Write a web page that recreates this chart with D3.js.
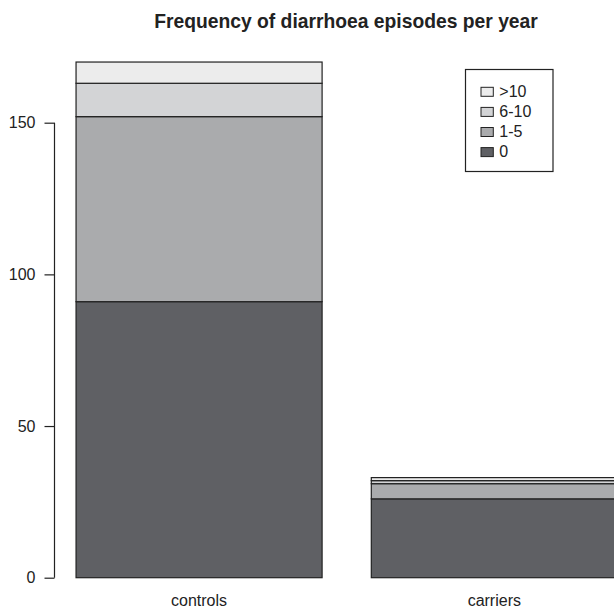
<!DOCTYPE html>
<html>
<head>
<meta charset="utf-8">
<script src="https://cdn.jsdelivr.net/npm/d3@7"></script>
<style>
  body { margin: 0; background: #fff; }
  svg { display: block; font-family: "Liberation Sans", Arial, Helvetica, sans-serif; }
</style>
</head>
<body>
<svg id="chart" width="614" height="608"></svg>
<script>
// Groups along the x axis
const groups = ["controls", "carriers"];
// Episode-frequency classes, stacked from the bottom up
const classes = ["0", "1-5", "6-10", ">10"];
// Counts per class, one array per group (same order as `classes`)
const controlsCounts = [91, 61, 11, 7];
const carriersCounts = [26, 5, 1, 1];
// Fill per class
const classColors = ["#5f6064", "#aaabad", "#d3d4d6", "#ececec"];
// Y axis ticks
const yTicks = [0, 50, 100, 150];

const countsByGroup = { controls: controlsCounts, carriers: carriersCounts };
const rows = groups.map(g => {
  const r = { group: g };
  classes.forEach((c, i) => { r[c] = countsByGroup[g][i]; });
  return r;
});

const svg = d3.select("#chart");

// Bars are width 1 with a 0.2 gap, plotted on a continuous x range
const x = d3.scaleLinear().domain([0.112, 2.488]).range([54.4, 639]);
const barLeft = i => 0.2 + i * 1.2;
const y = d3.scaleLinear().domain([0, 150]).range([577.7, 122.7]);

const stack = d3.stack().keys(classes)(rows);

svg.append("g")
  .selectAll("g")
  .data(stack)
  .join("g")
  .attr("fill", (d, i) => classColors[i])
  .selectAll("rect")
  .data(d => d)
  .join("rect")
  .attr("x", (d, i) => x(barLeft(i)))
  .attr("width", (d, i) => x(barLeft(i) + 1) - x(barLeft(i)))
  .attr("y", d => y(d[1]))
  .attr("height", d => y(d[0]) - y(d[1]))
  .attr("stroke", "#222")
  .attr("stroke-width", 1.2);

// Y axis (line spans first to last tick only)
const yAxis = d3.axisLeft(y).tickValues(yTicks).tickSize(10).tickPadding(9).tickSizeOuter(0);
const yg = svg.append("g").attr("transform", "translate(54.5,0)").call(yAxis);
yg.select(".domain").attr("d", `M-0,${y(0)}V${y(150)}`).attr("stroke", "#222").attr("stroke-width", 1.2);
yg.selectAll(".tick line").attr("stroke", "#222").attr("stroke-width", 1.2);
yg.selectAll(".tick text").attr("font-size", 16).attr("fill", "#222")
  .attr("font-family", "Liberation Sans, Arial, sans-serif");

// Group labels under each bar
svg.append("g")
  .selectAll("text")
  .data(groups)
  .join("text")
  .attr("x", (d, i) => x(barLeft(i) + 0.5))
  .attr("y", 606)
  .attr("text-anchor", "middle")
  .attr("font-size", 16)
  .attr("fill", "#222")
  .text(d => d);

// Title
svg.append("text")
  .attr("x", 346)
  .attr("y", 27.7)
  .attr("text-anchor", "middle")
  .attr("font-size", 19.3)
  .attr("font-weight", "bold")
  .attr("fill", "#222")
  .text("Frequency of diarrhoea episodes per year");

// Legend, top class first
const legend = svg.append("g");
legend.append("rect")
  .attr("x", 465.5).attr("y", 69.5)
  .attr("width", 87.5).attr("height", 102)
  .attr("fill", "#fff").attr("stroke", "#222").attr("stroke-width", 1.2);

const legendItems = classes.map((c, i) => ({ label: c, color: classColors[i] })).reverse();
const li = legend.selectAll("g.item")
  .data(legendItems)
  .join("g")
  .attr("class", "item")
  .attr("transform", (d, i) => `translate(0,${91.8 + i * 20.1})`);
li.append("rect")
  .attr("x", 481).attr("y", -4.5)
  .attr("width", 12.3).attr("height", 9)
  .attr("fill", d => d.color)
  .attr("stroke", "#222").attr("stroke-width", 1);
li.append("text")
  .attr("x", 499.3).attr("y", 5)
  .attr("font-size", 16)
  .attr("fill", "#222")
  .text(d => d.label);
</script>
</body>
</html>
